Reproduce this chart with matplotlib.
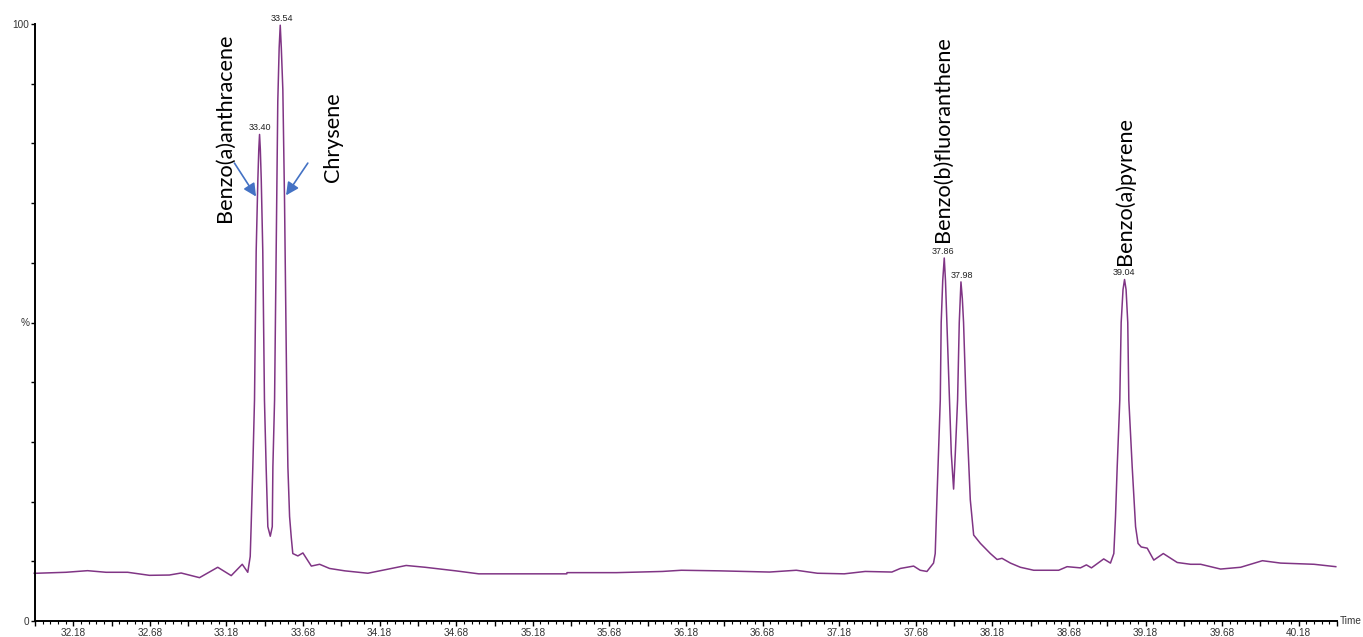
import numpy as np
import matplotlib
matplotlib.use('Agg')
import matplotlib.pyplot as plt

plt.rcParams['font.family'] = ['Liberation Sans', 'DejaVu Sans']

# chromatogram trace (time in min, intensity in %)
time = [31.925, 31.943, 32.132, 32.273, 32.394, 32.535, 32.677, 32.807, 32.884,
        33.004, 33.123, 33.211, 33.283, 33.319, 33.335, 33.341, 33.352, 33.363,
        33.374, 33.385, 33.391, 33.396, 33.401, 33.407, 33.417, 33.428, 33.439,
        33.450, 33.466, 33.479, 33.483, 33.494, 33.505, 33.515, 33.524, 33.531,
        33.538, 33.548, 33.559, 33.568, 33.574, 33.581, 33.592, 33.603, 33.613,
        33.646, 33.679, 33.734, 33.788, 33.853, 33.953, 34.103, 34.353, 34.477,
        34.677, 34.827, 35.402, 35.403, 35.726, 36.026, 36.150, 36.401, 36.725,
        36.900, 37.038, 37.213, 37.350, 37.524, 37.579, 37.666, 37.709, 37.753,
        37.796, 37.807, 37.818, 37.829, 37.840, 37.846, 37.856, 37.866, 37.874,
        37.883, 37.899, 37.912, 37.927, 37.938, 37.953, 37.964, 37.975, 37.984,
        37.992, 38.008, 38.036, 38.058, 38.102, 38.167, 38.211, 38.243, 38.298,
        38.363, 38.450, 38.613, 38.668, 38.755, 38.794, 38.827, 38.907, 38.951,
        38.973, 38.984, 38.995, 39.012, 39.021, 39.033, 39.043, 39.053, 39.064,
        39.071, 39.093, 39.115, 39.131, 39.152, 39.191, 39.234, 39.296, 39.387,
        39.474, 39.540, 39.670, 39.801, 39.943, 40.062, 40.280, 40.422]
intensity = [8.0, 8.0, 8.16, 8.43, 8.16, 8.16, 7.65, 7.7, 8.04,
             7.26, 9.0, 7.6, 9.5, 8.16, 10.8, 15.8, 25.8, 37.0,
             62.0, 74.0, 79.0, 81.5, 79.0, 74.0, 62.0, 37.0, 25.8,
             15.8, 14.2, 15.8, 25.8, 37.0, 64.0, 87.0, 96.0, 99.8,
             96.0, 89.0, 70.5, 50.0, 37.0, 25.8, 17.5, 14.0, 11.3,
             10.9, 11.4, 9.2, 9.5, 8.8, 8.4, 8.0, 9.3, 9.0,
             8.4, 7.9, 7.9, 8.1, 8.1, 8.3, 8.5, 8.4, 8.2,
             8.5, 8.0, 7.9, 8.3, 8.2, 8.8, 9.2, 8.5, 8.3,
             9.7, 11.3, 20.3, 28.6, 37.0, 50.0, 57.0, 60.8, 57.0,
             50.0, 37.0, 28.0, 22.1, 28.0, 37.0, 50.0, 56.8, 54.0,
             50.0, 37.0, 20.3, 14.4, 13.0, 11.3, 10.3, 10.5, 9.7,
             9.0, 8.5, 8.5, 9.1, 8.9, 9.4, 8.9, 10.4, 9.7,
             11.3, 17.5, 25.8, 37.0, 50.0, 55.5, 57.2, 55.5, 50.0,
             37.0, 25.8, 15.8, 13.0, 12.4, 12.2, 10.2, 11.3, 9.8,
             9.5, 9.5, 8.7, 9.0, 10.1, 9.7, 9.5, 9.1]

# peak labels
peak_times = [33.40, 33.54, 37.86, 37.98, 39.04]
peak_heights = [81.5, 99.8, 60.8, 56.8, 57.2]

# compound names: (name, x, y of the bottom end)
compounds = ['Benzo(a)anthracene', 'Chrysene', 'Benzo(b)fluoranthene', 'Benzo(a)pyrene']
compound_x = [33.167, 33.876, 37.859, 39.046]
compound_y = [66.8, 73.5, 63.5, 59.6]

# arrows (tail -> head)
arrow_tail = [(33.232, 76.7), (33.711, 76.7)]
arrow_head = [(33.373, 71.1), (33.569, 71.3)]

x_tick_labels = ['32.18', '32.68', '33.18', '33.68', '34.18', '34.68', '35.18',
                 '35.68', '36.18', '36.68', '37.18', '37.68', '38.18', '38.68',
                 '39.18', '39.68', '40.18']

x_min, x_max = 31.93, 40.43


def main():
    fig = plt.figure(figsize=(13.63, 6.37), dpi=100)
    ax = fig.add_axes([35 / 1363, 16 / 637, 1302 / 1363, 597 / 637])

    ax.plot(time, intensity, color='#803585', lw=1.1, clip_on=False)

    for t, h in zip(peak_times, peak_heights):
        ax.annotate('%.2f' % t, (t, h), xytext=(0, 1.5), textcoords='offset points',
                    ha='center', va='bottom', fontsize=6.5, color='#222222')

    for name, cx, cy in zip(compounds, compound_x, compound_y):
        ax.text(cx, cy, name, rotation=90, ha='center', va='bottom',
                fontsize=15.6, family=['Lato', 'DejaVu Sans'], color='black')

    for tail, head in zip(arrow_tail, arrow_head):
        ax.annotate('', xy=head, xytext=tail,
                    arrowprops=dict(arrowstyle='-|>', color='#4472c4', lw=1.2,
                                    mutation_scale=19, shrinkA=0, shrinkB=0))

    ax.set_xlim(x_min, x_max)
    ax.set_ylim(0, 100)

    # ticks: major every 0.25, labels every 0.5, minor every 0.05
    major = np.round(np.arange(x_min, x_max + 0.001, 0.25), 2)
    labels = []
    for m in major:
        s = '%.2f' % m
        labels.append(s if s in x_tick_labels else '')
    ax.set_xticks(major)
    ax.set_xticklabels(labels)
    ax.set_xticks(np.arange(x_min, x_max + 0.001, 0.05), minor=True)
    ax.tick_params(axis='x', which='major', length=3.6, width=1, pad=1.5,
                   labelsize=7.2, labelcolor='#333333', direction='out')
    ax.tick_params(axis='x', which='minor', length=2, width=0.8, direction='out')

    yt = np.arange(0, 101, 10)
    ax.set_yticks(yt)
    ax.set_yticklabels(['0' if v == 0 else '100' if v == 100 else '%' if v == 50 else ''
                        for v in yt])
    ax.tick_params(axis='y', length=3.2, width=1, pad=1, labelsize=7.2,
                   labelcolor='#333333')

    for s in ['top', 'right']:
        ax.spines[s].set_visible(False)
    for s in ['left', 'bottom']:
        ax.spines[s].set_linewidth(1.4)

    ax.text(1.002, 0, 'Time', transform=ax.transAxes, ha='left', va='center',
            fontsize=7.2, color='#333333')

    fig.savefig('out.png', dpi=100)


if __name__ == '__main__':
    main()
